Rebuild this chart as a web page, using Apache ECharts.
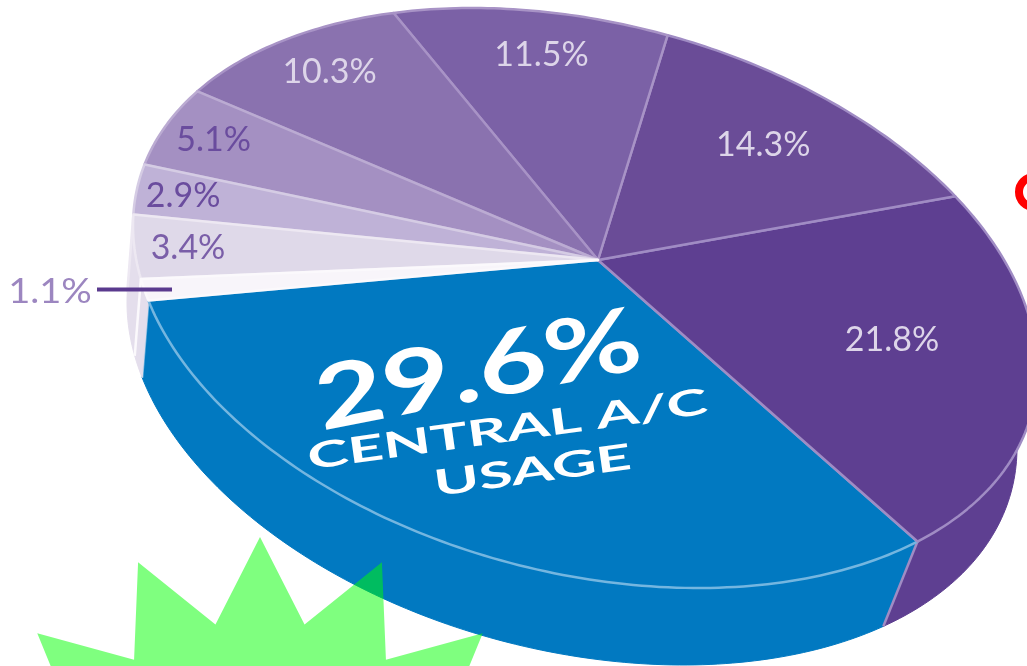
<!DOCTYPE html>
<html>
<head>
<meta charset="utf-8">
<style>html,body{margin:0;padding:0;background:#fff}#main{width:1027px;height:666px}</style>
<script src="https://cdn.jsdelivr.net/npm/echarts@6/dist/echarts.min.js"></script>
</head>
<body>
<div id="main"></div>
<script>
// values, in drawing order starting at the blue slice
var shares = [29.6, 21.8, 14.3, 11.5, 10.3, 5.1, 2.9, 3.4, 1.1];
var shareLabels = ['29.6%', '21.8%', '14.3%', '11.5%', '10.3%', '5.1%', '2.9%', '3.4%', '1.1%'];
var centerLines = ['CENTRAL A/C', 'USAGE'];

var faceColors = ['#0179C1', '#5E3F91', '#6A4C97', '#7B61A6', '#8A72AF', '#A490C2', '#BFB2D7', '#DFD9E9', '#F8F5FA'];
var edgeColors = ['#74B6E0', '#A08CC4', '#A08CC4', '#A893C6', '#A893C6', '#BBABD2', '#D5CCE4', '#EDE8F2', '#FBF9FC'];
var sideColors = ['#0179C1', '#5E3F91', '#6A4C97', '#7B61A6', '#8A72AF', '#A490C2', '#E4DEEC', '#E4DEEC', '#E4DEEC'];
var textColors = ['#FFFFFF', '#DDD5E9', '#DDD5E9', '#DDD5E9', '#DDD5E9', '#6A4C9E', '#6A4C9E', '#7A5EA8', '#9C86C0'];

// [distance from apex to rim, position across the slice]
var labelPlace = [null, [0.67, 0.5], [0.72, 0.5], [0.82, 0.5], [0.856, 0.5], [0.89, 0.5], [0.90, 0.5], [0.884, 0.5]];

// top ellipse, bottom ellipse, tilted apex
var topRim = {cx: 585, cy: 298, hx: 452, hy: 290};
var lowRim = {cx: 572, cy: 375, hx: 445, hy: 290};
var skew = 0.25;
var apex = [598, 260];
var startAngle = 156.9 * Math.PI / 180;
var warpGain = 1.12;

var total = shares.reduce(function (a, b) { return a + b; }, 0);
var root = Math.sqrt(1 - skew * skew);

// apex in unit disc coordinates, then the disc map that moves the centre there
var ax = (apex[0] - topRim.cx) / topRim.hx;
var ay = ((apex[1] - topRim.cy) / topRim.hy - skew * ax) / root;
var boost = 1 + Math.sqrt(1 - ax * ax - ay * ay);
var bx = warpGain * ax / boost, by = warpGain * ay / boost;

function warp(phi) {
    var c = Math.cos(phi), s = Math.sin(phi);
    var num = Math.atan2(s + by, c + bx);
    var den = Math.atan2(bx * s - by * c, 1 + bx * c + by * s);
    return num - den;
}
function rimPoint(rim, t) {
    return [
        rim.cx + rim.hx * Math.cos(t),
        rim.cy + rim.hy * (skew * Math.cos(t) + root * Math.sin(t))
    ];
}
function angleAt(cum) {
    return startAngle - 2 * Math.PI * cum / total;
}
function cumBefore(idx) {
    var sum = 0;
    for (var i = 0; i < idx; i++) sum += shares[i];
    return sum;
}
// the lower rim lags a little on the right, the near side of the perspective
function lowPoint(phi) {
    var t = warp(phi);
    return rimPoint(lowRim, t + 0.07 * Math.max(0, Math.cos(t)));
}
function topPoint(phi) {
    return rimPoint(topRim, warp(phi));
}
function arc(pointAt, from, to) {
    var pts = [];
    var n = Math.max(4, Math.round(Math.abs(to - from) * 60));
    for (var i = 0; i <= n; i++) {
        pts.push(pointAt(from + (to - from) * i / n));
    }
    return pts;
}
function inSlice(idx, r, across) {
    var p = topPoint(angleAt(cumBefore(idx) + shares[idx] * across));
    return [apex[0] + (p[0] - apex[0]) * r, apex[1] + (p[1] - apex[1]) * r];
}

function renderSide(params, api) {
    var idx = params.dataIndex;
    var val = api.value(0);
    var from = angleAt(cumBefore(idx)), to = angleAt(cumBefore(idx) + val);
    var outline = arc(topPoint, from, to).concat(arc(lowPoint, from, to).reverse());
    return {
        type: 'group',
        children: [{
            type: 'polygon',
            shape: {points: outline},
            style: {fill: sideColors[idx], stroke: sideColors[idx], lineWidth: 1}
        }, {
            type: 'polyline',
            shape: {points: [topPoint(from), lowPoint(from)]},
            style: {fill: null, stroke: edgeColors[idx], lineWidth: 2.5}
        }]
    };
}

function renderFace(params, api) {
    var idx = params.dataIndex;
    var val = api.value(0);
    var from = angleAt(cumBefore(idx)), to = angleAt(cumBefore(idx) + val);
    return {
        type: 'group',
        children: [{
            type: 'polygon',
            shape: {points: [apex].concat(arc(topPoint, from, to))},
            style: {fill: faceColors[idx], stroke: edgeColors[idx], lineWidth: 2.5, lineJoin: 'round'}
        }]
    };
}

function plainLabel(text, pos, color, stretch) {
    return {
        type: 'text',
        x: pos[0],
        y: pos[1],
        scaleX: stretch,
        style: {
            text: text,
            fontFamily: 'Lato',
            fontSize: 34,
            fill: color,
            align: 'center',
            verticalAlign: 'middle'
        }
    };
}

function bigText(text, pos, size, stretch, deg) {
    return {
        type: 'text',
        x: pos[0],
        y: pos[1],
        scaleX: stretch,
        rotation: deg * Math.PI / 180,
        style: {
            text: text,
            fontFamily: 'Lato',
            fontWeight: 'bold',
            fontSize: size,
            fill: '#FFFFFF',
            align: 'center',
            verticalAlign: 'middle'
        }
    };
}

function renderLabels(params, api) {
    var idx = params.dataIndex;
    var kids = [];
    if (idx === 0) {
        kids.push(bigText(shareLabels[0], inSlice(0, 0.47, 0.354), 88, 1.34, 11));
        kids.push(bigText(centerLines[0], inSlice(0, 0.60, 0.47), 36, 1.72, 8));
        kids.push(bigText(centerLines[1], inSlice(0, 0.70, 0.53), 36, 1.7, 8));
    } else if (idx === shares.length - 1) {
        kids.push(plainLabel(shareLabels[idx], [50, 292], textColors[idx], 1.12));
        kids.push({
            type: 'line',
            shape: {x1: 97, y1: 289.5, x2: 172, y2: 289.5},
            style: {stroke: '#5A3A8E', lineWidth: 4}
        });
    } else {
        var at = labelPlace[idx];
        kids.push(plainLabel(shareLabels[idx], inSlice(idx, at[0], at[1]), textColors[idx], 1.0));
    }
    return {type: 'group', children: kids};
}

// background burst that sits over the pie, clipped by the page
var burst = [];
for (var k = 0; k < 30; k++) {
    var ang = k * Math.PI / 15;
    var rad = k % 2 === 0 ? 291 : 208;
    burst.push([260 + 1.03 * rad * Math.sin(ang), 828 - rad * Math.cos(ang)]);
}

var myChart = echarts.init(document.getElementById('main'), null, {renderer: 'canvas'});
myChart.setOption({
    animation: false,
    backgroundColor: '#FFFFFF',
    graphic: [{
        type: 'polygon',
        z: 100,
        shape: {points: burst},
        style: {fill: 'rgba(0,255,0,0.5)'}
    }, {
        type: 'circle',
        z: 100,
        shape: {cx: 1034, cy: 192, r: 15},
        style: {fill: null, stroke: '#FF0000', lineWidth: 8}
    }],
    series: [{
        type: 'custom',
        coordinateSystem: 'none',
        z: 1,
        data: shares,
        renderItem: renderSide
    }, {
        type: 'custom',
        coordinateSystem: 'none',
        z: 2,
        data: shares,
        renderItem: renderFace
    }, {
        type: 'custom',
        coordinateSystem: 'none',
        z: 3,
        data: shares,
        renderItem: renderLabels
    }]
});
</script>
</body>
</html>
